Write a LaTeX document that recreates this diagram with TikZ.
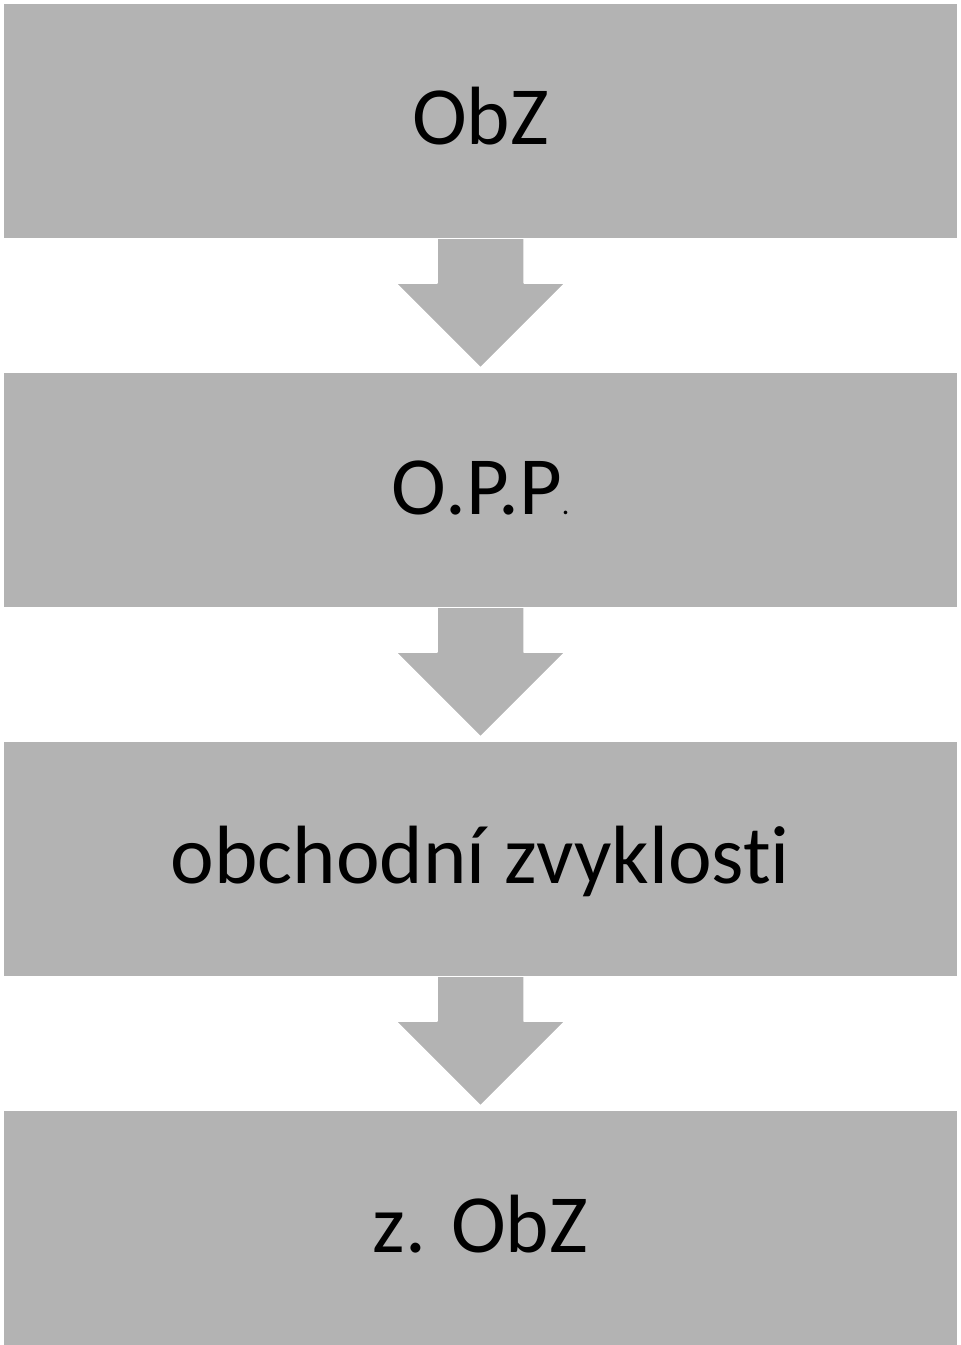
\documentclass[tikz,border=0pt]{standalone}
\usepackage{fontspec}
\setmainfont[Ligatures=NoCommon]{Carlito}
\usetikzlibrary{positioning,calc}
\definecolor{boxgray}{RGB}{179,179,179}
\tikzset{
  box/.style={rectangle,fill=boxgray,draw=white,line width=1bp,minimum width=953bp,minimum height=235bp,inner sep=0pt,text height=66bp,text depth=18bp,font=\fontsize{83}{99}\selectfont},
  blockarrow/.style={fill=boxgray,draw=white,line width=1.5bp,line join=round}
}
\begin{document}
\begin{tikzpicture}[x=1bp,y=-1bp]
            \useasboundingbox (0,0) rectangle (960,1345);
            \node[box] (obz) at (480.5,121) {ObZ};
            \node[box,below=133bp of obz] (opp) {O.P.P{\fontsize{30}{36}\selectfont.}};
            \node[box,below=133bp of opp] (zvyk) {obchodní zvyklosti};
            \node[box,below=133bp of zvyk] (zobz) {z. ObZ};
            \foreach \a/\b in {obz/opp,opp/zvyk,zvyk/zobz}
              \draw[blockarrow] ($(\a.south)+(-43.5,0)$) -- ++(0,44) -- ++(-41.5,0) -- ($(\b.north)+(0,-4)$) -- ($(\a.south)+(85,44)$) -- ++(-41.5,0) -- ++(0,-44);
        \end{tikzpicture}
\end{document}
